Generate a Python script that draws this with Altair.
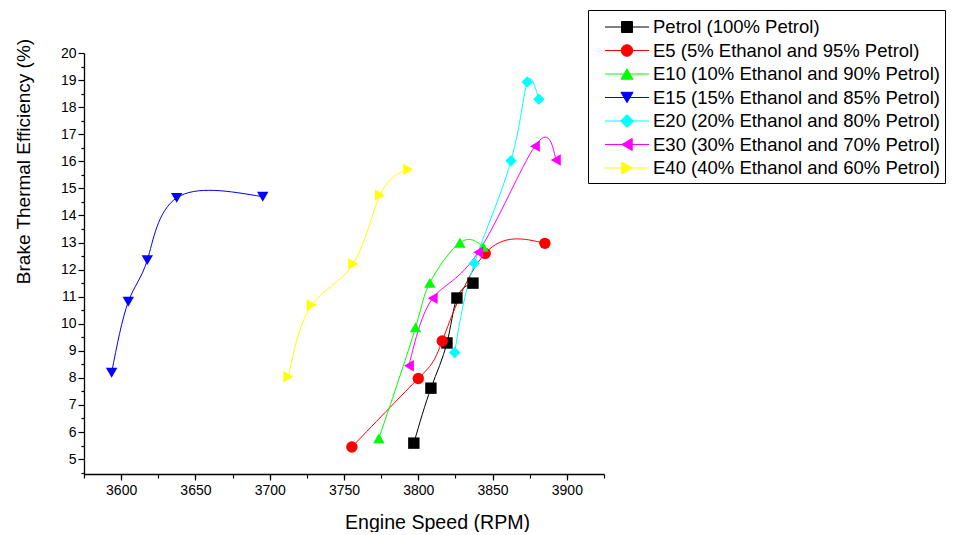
import altair as alt
import pandas as pd

FONT = "Liberation Sans"

series = [
    "Petrol (100% Petrol)",
    "E5 (5% Ethanol and 95% Petrol)",
    "E10 (10% Ethanol and 90% Petrol)",
    "E15 (15% Ethanol and 85% Petrol)",
    "E20 (20% Ethanol and 80% Petrol)",
    "E30 (30% Ethanol and 70% Petrol)",
    "E40 (40% Ethanol and 60% Petrol)",
]
colors = ["#000000", "#FF0000", "#00FF00", "#0000FF", "#00FFFF", "#FF00FF", "#FFFF00"]
shapes = ["square", "circle", "triangle-up", "triangle-down", "diamond", "triangle-left", "triangle-right"]
shape_keys = ["k0", "k1", "k2", "k3", "k4", "k5", "k6"]

petrol_rpm = [3797, 3808.5, 3819.3, 3826, 3836.8]
petrol_bte = [5.59, 7.62, 9.29, 10.95, 11.5]
e5_rpm = [3755.3, 3800, 3816.1, 3845, 3885.2]
e5_bte = [5.45, 7.98, 9.36, 12.6, 12.97]
e10_rpm = [3773.5, 3798.2, 3807.8, 3828, 3843.7]
e10_bte = [5.77, 9.87, 11.51, 12.99, 12.84]
e15_rpm = [3593.6, 3604.8, 3617.6, 3637.4, 3695.3]
e15_bte = [8.19, 10.81, 12.35, 14.65, 14.69]
e20_rpm = [3824.5, 3837.7, 3862.4, 3873.3, 3881.2]
e20_bte = [8.94, 12.23, 16.02, 18.93, 18.29]
e30_rpm = [3793.7, 3809.7, 3840.3, 3878.5, 3892.6]
e30_bte = [8.45, 10.94, 12.64, 16.56, 16.05]
e40_rpm = [3712.5, 3728.2, 3756.2, 3774.2, 3793.2]
e40_bte = [8.04, 10.69, 12.21, 14.75, 15.7]

x_major_ticks = [3600, 3650, 3700, 3750, 3800, 3850, 3900]
x_minor_ticks = [3575, 3600, 3625, 3650, 3675, 3700, 3725, 3750, 3775, 3800, 3825, 3850, 3875, 3900, 3925]
y_major_ticks = [5, 6, 7, 8, 9, 10, 11, 12, 13, 14, 15, 16, 17, 18, 19, 20]
y_minor_ticks = [4.5, 5.5, 6.5, 7.5, 8.5, 9.5, 10.5, 11.5, 12.5, 13.5, 14.5, 15.5, 16.5, 17.5, 18.5, 19.5]

all_rpm = [petrol_rpm, e5_rpm, e10_rpm, e15_rpm, e20_rpm, e30_rpm, e40_rpm]
all_bte = [petrol_bte, e5_bte, e10_bte, e15_bte, e20_bte, e30_bte, e40_bte]

rows = []
for name, key, rpms, btes in zip(series, shape_keys, all_rpm, all_bte):
    for i, (r, b) in enumerate(zip(rpms, btes)):
        rows.append({"series": name, "sk": key, "rpm": r, "bte": b, "idx": i})
df = pd.DataFrame(rows)

# legend glyphs: line through marker (custom paths, unit = sqrt(symbolSize)/2 px)
SYM = 529
U = (SYM ** 0.5) / 2.0


def f(v):
    return f"{v / U:.3f}"


line_part = f"M{f(-22)},0H{f(22)}"
glyphs = [
    f"M{f(-5.5)},{f(-5.5)}H{f(5.5)}V{f(5.5)}H{f(-5.5)}Z",
    f"M{f(-5.8)},0A{f(5.8)},{f(5.8)},0,1,0,{f(5.8)},0A{f(5.8)},{f(5.8)},0,1,0,{f(-5.8)},0Z",
    f"M0,{f(-5.2)}L{f(6)},{f(5.2)}L{f(-6)},{f(5.2)}Z",
    f"M0,{f(5.2)}L{f(6)},{f(-5.2)}L{f(-6)},{f(-5.2)}Z",
    f"M{f(-6.5)},0L0,{f(-6.5)}L{f(6.5)},0L0,{f(6.5)}Z",
    f"M{f(-5.2)},0L{f(5.2)},{f(-6)}L{f(5.2)},{f(6)}Z",
    f"M{f(5.2)},0L{f(-5.2)},{f(-6)}L{f(-5.2)},{f(6)}Z",
]
paths = [line_part + g for g in glyphs]
shape_expr = "[" + ",".join(f"'{p}'" for p in paths) + "][indexof([" + ",".join(f"'{s}'" for s in series) + "], datum.value)]"

legend = alt.Legend(
    title=None,
    orient="none",
    legendX=504,
    legendY=-43,
    labelFont=FONT,
    labelFontSize=18.5,
    labelColor="black",
    labelOffset=14,
    labelLimit=600,
    symbolSize=SYM,
    symbolOffset=22,
    symbolType={"expr": shape_expr},
    symbolFillColor={"expr": "scale('color', datum.value)"},
    symbolStrokeColor={"expr": "scale('color', datum.value)"},
    symbolStrokeWidth=1,
    symbolOpacity=1,
    padding=5,
    rowPadding=1.5,
    strokeColor="black",
    fillColor="white",
)

x_scale = alt.Scale(domain=[3575, 3925], nice=False, zero=False)
y_scale = alt.Scale(domain=[4.45, 20], nice=False, zero=False)
color_scale = alt.Scale(domain=series, range=colors)
shape_scale = alt.Scale(domain=shape_keys, range=shapes)

x_major = alt.Axis(
    orient="bottom", values=x_major_ticks, format="d", tickSize=6, tickColor="black", tickWidth=1.2,
    labelFont=FONT, labelFontSize=14, labelColor="black", labelPadding=3, labelFlush=False,
    labelOverlap=False, grid=False, domainColor="black", domainWidth=1.3,
    title="Engine Speed (RPM)", titleFont=FONT, titleFontSize=19.6, titleFontWeight="normal",
    titleColor="black", titleX=353, titleY=48, titleBaseline="middle", titleAlign="center",
)
x_minor = alt.Axis(
    orient="bottom", values=x_minor_ticks, tickSize=4, tickColor="black", tickWidth=1.2,
    labels=False, domain=False, grid=False, title=None,
)
y_major = alt.Axis(
    orient="left", values=y_major_ticks, format="d", tickSize=6, tickColor="black", tickWidth=1.2,
    labelFont=FONT, labelFontSize=14, labelColor="black", labelPadding=2, labelFlush=False,
    labelOverlap=False, grid=False, domainColor="black", domainWidth=1.3,
    title="Brake Thermal Efficiency (%)", titleFont=FONT, titleFontSize=19, titleFontWeight="normal",
    titleColor="black", titleX=-61, titleY=108, titleBaseline="middle", titleAlign="center", titleAngle=270,
)
y_minor = alt.Axis(
    orient="left", values=y_minor_ticks, tickSize=3, tickColor="black", tickWidth=1.2,
    labels=False, domain=False, grid=False, title=None,
)

base = alt.Chart(df)

lines = base.mark_line(strokeWidth=1, interpolate="natural").encode(
    x=alt.X("rpm:Q", scale=x_scale, axis=x_major),
    y=alt.Y("bte:Q", scale=y_scale, axis=y_major),
    color=alt.Color("series:N", scale=color_scale, legend=legend),
    detail="series:N",
    order="idx:Q",
)

points = base.mark_point(filled=True, opacity=1, size=130).encode(
    x=alt.X("rpm:Q", scale=x_scale, axis=x_minor),
    y=alt.Y("bte:Q", scale=y_scale, axis=y_minor),
    color=alt.Color("series:N", scale=color_scale, legend=legend),
    shape=alt.Shape("sk:N", scale=shape_scale, legend=None),
)

chart = (
    alt.layer(lines, points)
    .resolve_axis(x="independent", y="independent")
    .properties(
        width=520,
        height=421,
        autosize=alt.AutoSizeParams(type="none"),
        padding={"left": 76, "top": 45, "right": 343, "bottom": 58},
    )
    .configure_view(stroke=None)
)

chart.save("out.html", embed_options={"renderer": "svg", "actions": False})
